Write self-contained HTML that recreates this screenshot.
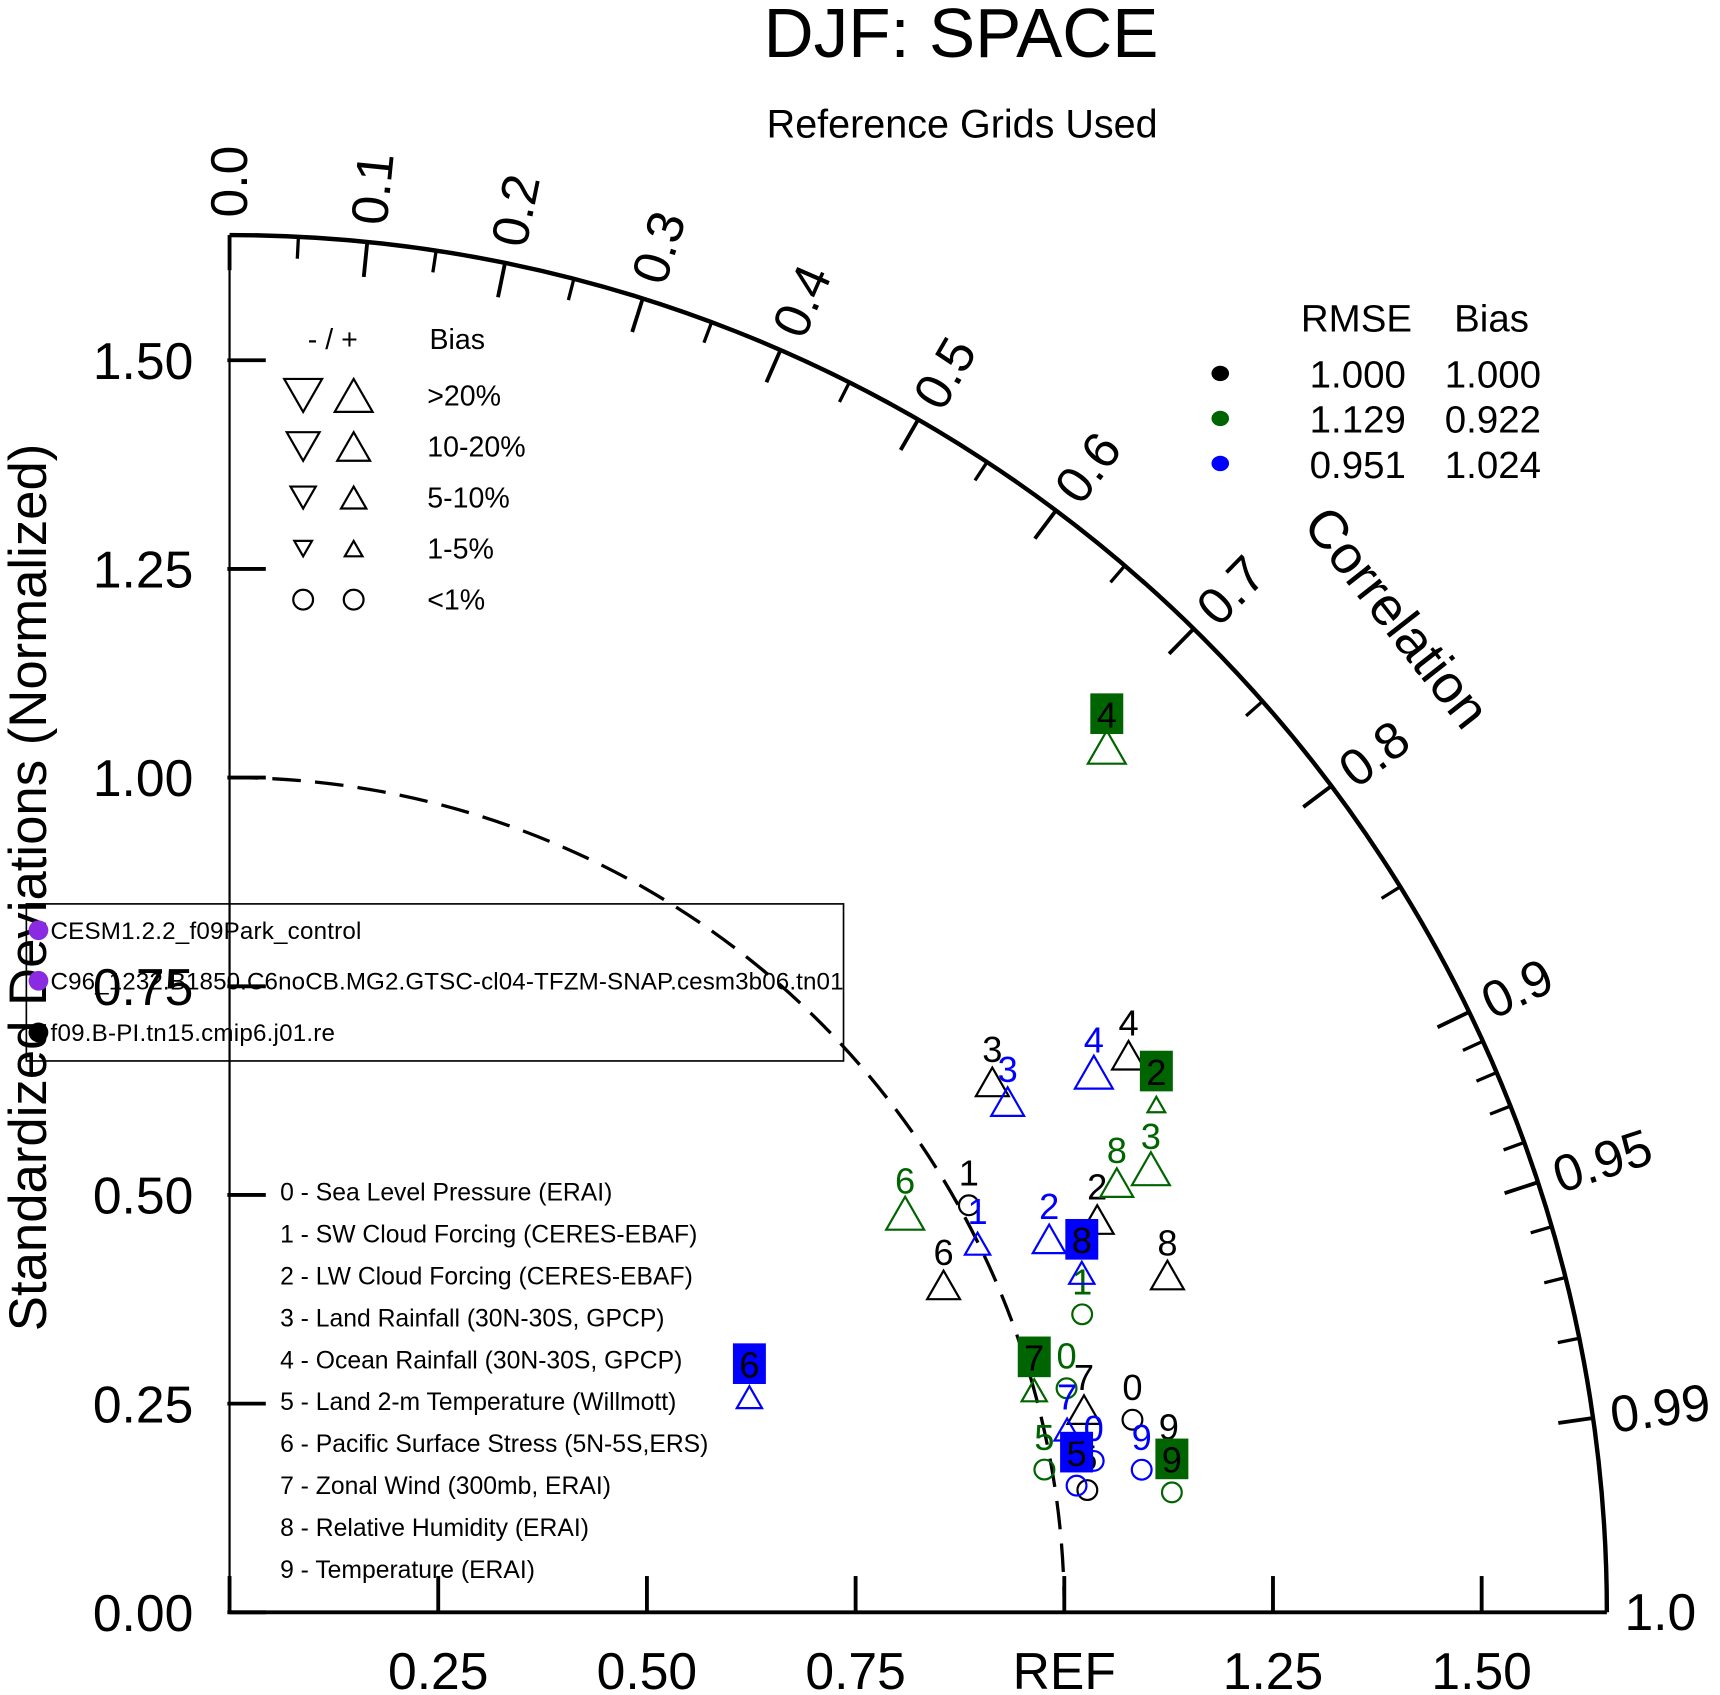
<!DOCTYPE html>
<html><head><meta charset="utf-8"><style>
html,body{margin:0;padding:0;background:#fff;}
svg{display:block;font-family:"Liberation Sans",Arial,sans-serif;}
</style></head><body>
<svg id="chart" width="1720" height="1695" viewBox="0 0 1566 1543.3" preserveAspectRatio="none" xmlns="http://www.w3.org/2000/svg">
<text x="875" y="52" font-size="63" text-anchor="middle">DJF: SPACE</text>
<text x="876" y="125" font-size="36" text-anchor="middle">Reference Grids Used</text>
<text transform="translate(42,808) rotate(-90)" font-size="48" text-anchor="middle">Standardized Deviations (Normalized)</text>
<text transform="translate(1185,478) rotate(52)" font-size="49">Correlation</text>
<g id="axes"></g>
<g id="marks"></g>
<g font-size="26">
<text x="303" y="318" text-anchor="middle">- / +</text>
<text x="391" y="318">Bias</text>
</g>
<g id="biasleg"></g>
<g font-size="35">
<text x="1235" y="302" text-anchor="middle">RMSE</text>
<text x="1358" y="302" text-anchor="middle">Bias</text>
</g>
<g id="rmseleg"></g>
<g font-size="22">
<rect x="24" y="823" width="744" height="143" fill="none" stroke="#000" stroke-width="1.5"/>
<circle cx="35" cy="847" r="9" fill="#8a2be2"/>
<text x="46" y="855" textLength="283">CESM1.2.2_f09Park_control</text>
<circle cx="35" cy="893" r="9" fill="#8a2be2"/>
<text x="46" y="901" textLength="722">C96_1232.B1850.C6noCB.MG2.GTSC-cl04-TFZM-SNAP.cesm3b06.tn01</text>
<circle cx="35" cy="940" r="9" fill="#000"/>
<text x="46" y="948" textLength="259">f09.B-PI.tn15.cmip6.j01.re</text>
</g>
<g id="varleg" font-size="22"></g>
<script>
// ---- data ----
const varNames = ["Sea Level Pressure (ERAI)","SW Cloud Forcing (CERES-EBAF)","LW Cloud Forcing (CERES-EBAF)","Land Rainfall (30N-30S, GPCP)","Ocean Rainfall (30N-30S, GPCP)","Land 2-m Temperature (Willmott)","Pacific Surface Stress (5N-5S,ERS)","Zonal Wind (300mb, ERAI)","Relative Humidity (ERAI)","Temperature (ERAI)"];
const seriesColors = ["#000000","#006400","#0000ff"];
const rmseValues = ["1.000","1.129"," 0.951"];
const biasValues = ["1.000","0.922","1.024"];
const stdBlack = [1.106,1.011,1.141,1.113,1.267,1.038,0.941,1.052,1.194,1.140];
const corBlack = [0.978,0.876,0.911,0.821,0.850,0.990,0.909,0.973,0.941,0.987];
const symBlack = ["o","o","M","M","M","o","M","M","M","o"];
const boxBlack = [0,0,0,0,0,0,0,0,0,0];
const stdGreen = [1.038,1.082,1.266,1.225,1.476,0.991,0.940,1.000,1.181,1.138];
const corGreen = [0.966,0.944,0.877,0.901,0.712,0.985,0.861,0.964,0.900,0.992];
const symGreen = ["o","o","XS","L","L","o","L","S","M","o"];
const boxGreen = [0,0,1,0,1,0,0,1,0,1];
const stdBlue = [1.051,0.999,1.079,1.115,1.221,1.026,0.674,1.027,1.099,1.106];
const corBlue = [0.985,0.897,0.910,0.836,0.848,0.989,0.924,0.977,0.929,0.988];
const symBlue = ["o","S","M","M","L","o","S","S","S","o"];
const boxBlue = [0,0,0,0,0,1,1,0,1,0];
const stdTicks = [0,0.25,0.5,0.75,1.0,1.25,1.5];
const stdTickLabels = ["0.00","0.25","0.50","0.75","1.00","1.25","1.50"];
const xTickLabels = ["","0.25","0.50","0.75","REF","1.25","1.50"];
const corMajor = [0,0.1,0.2,0.3,0.4,0.5,0.6,0.7,0.8,0.9,0.95,0.99];
const corMajorLabels = ["0.0","0.1","0.2","0.3","0.4","0.5","0.6","0.7","0.8","0.9","0.95","0.99"];
const corMinor = [0.05,0.15,0.25,0.35,0.45,0.55,0.65,0.75,0.85,0.91,0.92,0.93,0.94,0.96,0.97,0.98];
// ---- geometry ----
const OX=209, OY=1468, U=760, RMAX=1.65;
const NS="http://www.w3.org/2000/svg";
function px(s,c){return OX+s*U*c;}
function py(s,c){return OY-s*U*Math.sqrt(Math.max(0,1-c*c));}
function mk(tag,attrs,parent,txt){const e=document.createElementNS(NS,tag);for(const k in attrs)e.setAttribute(k,attrs[k]);if(txt!==undefined)e.textContent=txt;parent.appendChild(e);return e;}
const axes=document.getElementById('axes');
let e;
e=mk('line',{x1:OX,y1:OY,x2:OX,y2:OY-RMAX*U,stroke:'#000','stroke-width':2},axes);


e=mk('line',{x1:OX,y1:OY,x2:OX+RMAX*U,y2:OY,stroke:'#000','stroke-width':3.5},axes);


e=mk('path',{d:`M ${OX} ${OY-RMAX*U} A ${RMAX*U} ${RMAX*U} 0 0 1 ${OX+RMAX*U} ${OY}`,fill:'none',stroke:'#000','stroke-width':4},axes);


e=mk('path',{d:`M ${OX} ${OY-U} A ${U} ${U} 0 0 1 ${OX+U} ${OY}`,fill:'none',stroke:'#000','stroke-width':3,'stroke-dasharray':'26 13'},axes);


stdTicks.forEach((v,i)=>{
  const y=OY-v*U;
  let t=mk('line',{x1:OX-2,y1:y,x2:OX+33,y2:y,stroke:'#000','stroke-width':3.5},axes);
  
  
  let l=mk('text',{x:176,y:y+17,'font-size':47,'text-anchor':'end'},axes,stdTickLabels[i]);
  
  
  const x=OX+v*U;
  t=mk('line',{x1:x,y1:OY,x2:x,y2:OY-33,stroke:'#000','stroke-width':3.5},axes);
  
  
  if(xTickLabels[i]){
    l=mk('text',{x:x,y:1538,'font-size':47,'text-anchor':'middle'},axes,xTickLabels[i]);
    
    
  }
});
const R=RMAX*U;
corMajor.forEach((c,i)=>{
  const s=Math.sqrt(1-c*c);
  let t=mk('line',{x1:OX+R*c,y1:OY-R*s,x2:OX+(R-32)*c,y2:OY-(R-32)*s,stroke:'#000','stroke-width':3.5},axes);
  
  
  const ang=Math.acos(c)*180/Math.PI;
  const rl=R+16;
  let l=mk('text',{transform:`translate(${OX+rl*c},${OY-rl*s}) rotate(${-ang})`,'font-size':47,dy:'16'},axes,corMajorLabels[i]);
  
  
});
e=mk('text',{x:OX+R+16,y:OY+16,'font-size':47},axes,"1.0");


corMinor.forEach(c=>{
  const s=Math.sqrt(1-c*c);
  let t=mk('line',{x1:OX+R*c,y1:OY-R*s,x2:OX+(R-20)*c,y2:OY-(R-20)*s,stroke:'#000','stroke-width':3},axes);
  
  
});
const triH={L:30,M:26,S:20,XS:14};
function marker(g,x,y,sym,col,down){
  if(sym==='o'){return mk('circle',{cx:x,cy:y,r:9,fill:'none',stroke:col,'stroke-width':2},g);}
  const h=triH[sym], w=h*1.15;
  const d=down?`M ${x-w/2} ${y-h/2} L ${x+w/2} ${y-h/2} L ${x} ${y+h/2} Z`:`M ${x-w/2} ${y+h/2} L ${x+w/2} ${y+h/2} L ${x} ${y-h/2} Z`;
  return mk('path',{d:d,fill:'none',stroke:col,'stroke-width':2},g);
}
const marks=document.getElementById('marks');
const series=[[stdBlack,corBlack,symBlack,boxBlack],[stdGreen,corGreen,symGreen,boxGreen],[stdBlue,corBlue,symBlue,boxBlue]];
series.forEach((sr,si)=>{
  const col=seriesColors[si];
  sr[0].forEach((s,i)=>{
    const c=sr[1][i];
    const x=px(s,c), y=py(s,c);
    const m=marker(marks,x,y,sr[2][i],col,false);
    
    
    const ly=y-30;
    if(sr[3][i]){
      const b=mk('rect',{x:x-15,y:ly-19,width:30,height:37,fill:col},marks);
      
      
    }
    const t=mk('text',{x:x,y:ly+12,'font-size':33,'text-anchor':'middle',fill:sr[3][i]?'#000':col},marks,String(i));
    
    
  });
});
const biasLabels=[">20%","10-20%","5-10%","1-5%","<1%"];
const biasSyms=["L","M","S","XS","o"];
const bl=document.getElementById('biasleg');
biasLabels.forEach((lab,i)=>{
  const y=360+i*46.5;
  let a=marker(bl,276,y,biasSyms[i],'#000',true);
  
  
  a=marker(bl,322,y,biasSyms[i],'#000',false);
  
  
  const t=mk('text',{x:389,y:y+9,'font-size':26},bl,lab);
  
  
});
const rl=document.getElementById('rmseleg');
seriesColors.forEach((col,i)=>{
  const y=340+i*41;
  let d=mk('ellipse',{cx:1111,cy:y,rx:8,ry:7,fill:col},rl);
  
  
  let t=mk('text',{x:1280,y:y+13,'font-size':35,'text-anchor':'end'},rl,rmseValues[i]);
  
  
  t=mk('text',{x:1403,y:y+13,'font-size':35,'text-anchor':'end'},rl,biasValues[i]);
  
  
});
const vl=document.getElementById('varleg');
varNames.forEach((n,i)=>{
  const t=mk('text',{x:255,y:1093+i*38.2,'font-size':22.5},vl,i+" - "+n);
  
  
});
</script>
</svg>
</body></html>
